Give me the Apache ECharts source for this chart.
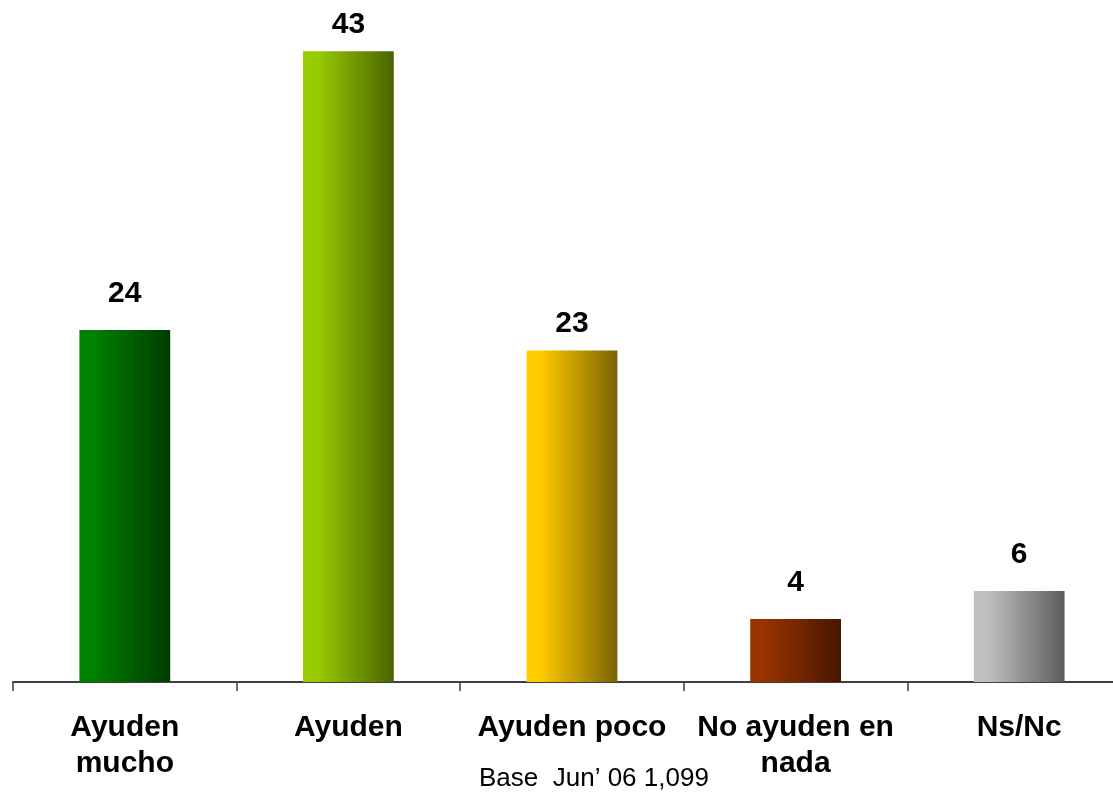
<!DOCTYPE html>
<html>
<head>
<meta charset="utf-8">
<script src="https://cdn.jsdelivr.net/npm/echarts@6/dist/echarts.min.js"></script>
<style>
html,body{margin:0;padding:0;background:#fff;}
#c{width:1113px;height:792px;}
</style>
</head>
<body>
<div id="c"></div>
<script>
const categories = ['Ayuden\nmucho', 'Ayuden', 'Ayuden poco', 'No ayuden en\nnada', 'Ns/Nc'];
// bar heights (labels show the rounded values)
const values = [24, 43, 22.6, 4.3, 6.2];
const lightColors = ['#008000', '#99cc00', '#ffcc00', '#993300', '#c0c0c0'];
const darkColors = ['#003c00', '#4a6300', '#7a6200', '#461700', '#5c5c5c'];
const baseNote = 'Base  Jun\u2019 06 1,099';

// label gaps (styling only)
const labelGaps = [21, 12, 12, 21, 21];

const chart = echarts.init(document.getElementById('c'), null, {renderer: 'canvas'});
const font = 'Arial, "Liberation Sans", sans-serif';

const data = values.map((v, i) => ({
  value: v,
  label: {distance: labelGaps[i]},
  itemStyle: {
    color: new echarts.graphic.LinearGradient(0, 0, 1, 0, [
      {offset: 0, color: lightColors[i]},
      {offset: 0.15, color: lightColors[i]},
      {offset: 1, color: darkColors[i]}
    ])
  }
}));

chart.setOption({
  animation: false,
  backgroundColor: '#ffffff',
  grid: {left: 13, width: 1118, top: 22, bottom: 110, containLabel: false, outerBoundsMode: 'none'},
  xAxis: {
    type: 'category',
    data: categories,
    axisLine: {show: true, lineStyle: {color: '#404040', width: 2}},
    axisTick: {show: true, length: 9, lineStyle: {color: '#404040', width: 1.5}},
    axisLabel: {
      interval: 0,
      margin: 28,
      color: '#000',
      fontFamily: font,
      fontWeight: 'bold',
      fontSize: 30,
      lineHeight: 36
    }
  },
  yAxis: {
    type: 'value',
    min: 0,
    max: 45,
    show: false,
    splitLine: {show: false}
  },
  graphic: [{
    type: 'text',
    left: 479,
    top: 766,
    style: {text: baseNote, fill: '#000', font: '26px Arial, "Liberation Sans", sans-serif'}
  }],
  series: [{
    type: 'bar',
    data: data,
    barWidth: '40.6%',
    label: {
      show: true,
      position: 'top',
      distance: 21,
      color: '#000',
      fontFamily: font,
      fontWeight: 'bold',
      fontSize: 30,
      formatter: p => String(Math.round(p.value))
    }
  }]
});
</script>
</body>
</html>
